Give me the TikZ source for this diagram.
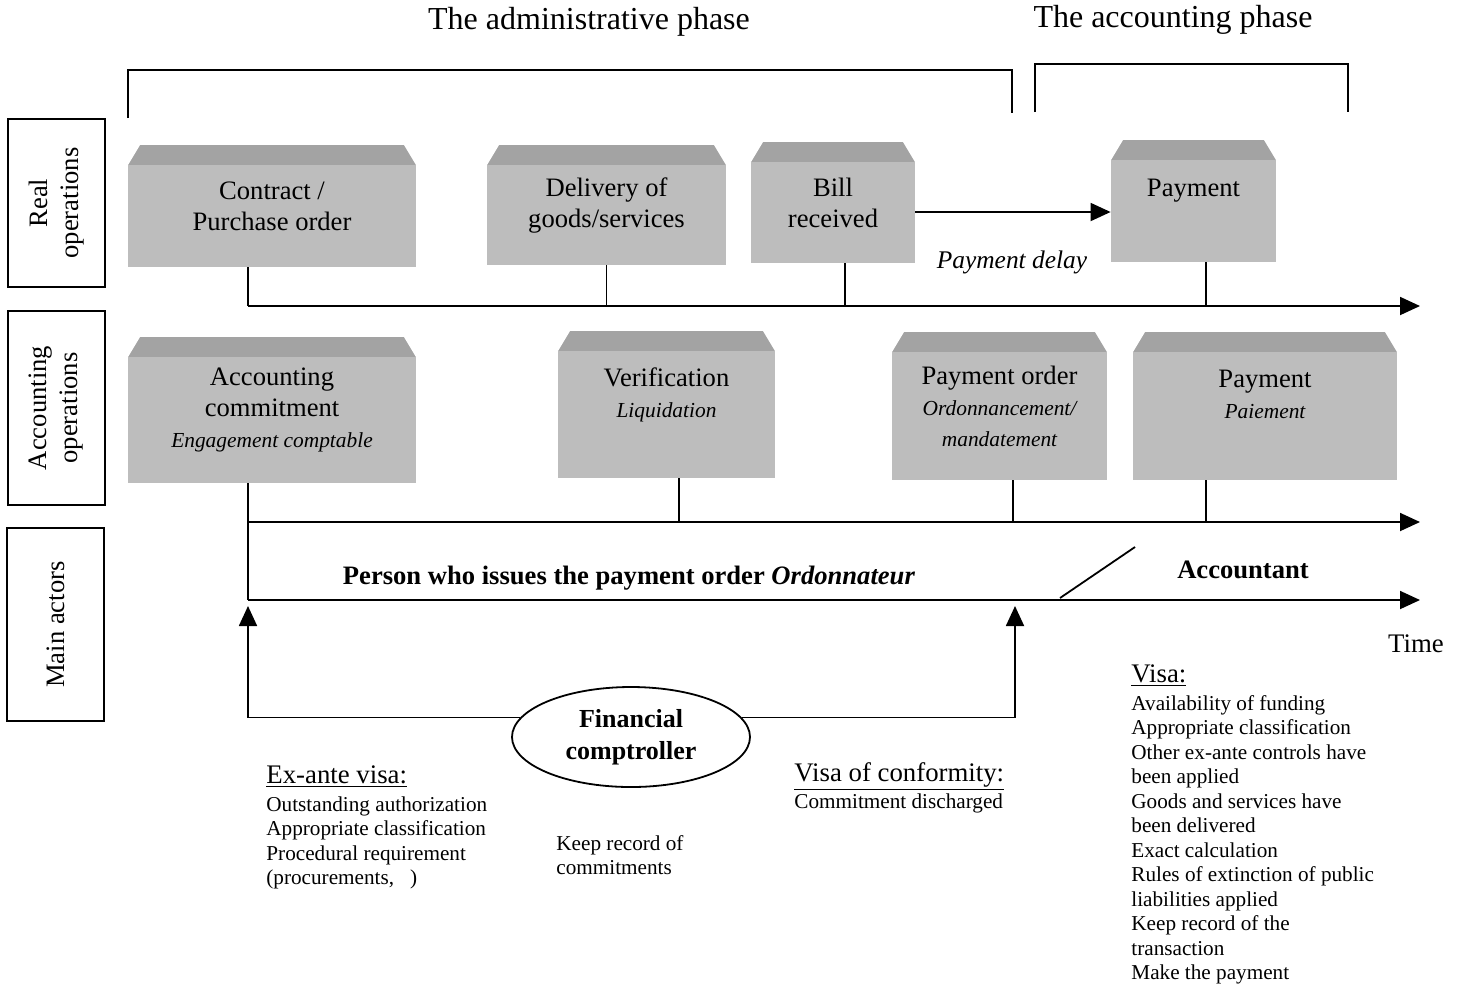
\documentclass[tikz,border=0pt]{standalone}
\usepackage{fontspec}
\setmainfont{Liberation Serif}
\usetikzlibrary{arrows.meta,shapes.geometric}

\newcommand{\boxfont}{\fontsize{13.3}{15.5}\selectfont}
\newcommand{\subfont}{\fontsize{10.7}{13.5}\selectfont\itshape}
\newcommand{\listfont}{\fontsize{10.6}{12.25}\selectfont}
\newcommand{\headfont}{\fontsize{13.4}{15}\selectfont}

\tikzset{
  opbox/.style={fill=black!26, align=center, font=\boxfont, inner sep=2pt,
    path picture={
      \fill[black!36] (path picture bounding box.north west) rectangle ([yshift=-10pt]path picture bounding box.north east);
      \fill[white] (path picture bounding box.north west) -- ++(6pt,0pt) -- ++(-6pt,-10pt) -- cycle;
      \fill[white] (path picture bounding box.north east) -- ++(-6pt,0pt) -- ++(6pt,-10pt) -- cycle;
    }},
  sidebox/.style={draw, line width=0.9pt, rotate=90, minimum height=48.5pt, align=center, font=\boxfont},
  tline/.style={line width=0.9pt, -{Triangle[length=10pt,width=9pt]}},
  tick/.style={line width=0.9pt},
  vislist/.style={anchor=north west, align=left, inner sep=0pt, font=\listfont},
  vishead/.style={anchor=north west, inner sep=0pt, font=\headfont}
}

\begin{document}
\begin{tikzpicture}[x=0.5pt,y=-0.5pt]
    \useasboundingbox (0,0) rectangle (1460,987);

    \node[font=\fontsize{16}{18}\selectfont] (admin) at (589,22) {The administrative phase};
    \node[font=\fontsize{16}{18}\selectfont] (accph) at (1173,20) {The accounting phase};
    \draw[line width=0.7pt] (128,118) |- (1012,70) -- (1012,113);
    \draw[line width=0.7pt] (1035,112) |- (1348,64) -- (1348,112);

    \node[sidebox, minimum width=84pt] (real) at (56.5,203) {Real\\operations};
    \node[sidebox, minimum width=97pt] (acco) at (56.5,408) {Accounting\\operations};
    \node[sidebox, minimum width=96.5pt] (actors) at (55.5,624.5) {Main actors};

    \node[opbox, minimum width=144pt, minimum height=61pt] (contract) at (272,206) {Contract /\\Purchase order};
    \node[opbox, minimum width=119.5pt, minimum height=60pt] (deliv) at (606.5,205) {Delivery of\\goods/services};
    \node[opbox, minimum width=82pt, minimum height=60.5pt] (bill) at (833,202.5) {Bill\\received};
    \node[opbox, minimum width=82.5pt, minimum height=61pt] (pay1) at (1193.5,201) {Payment\\[-2pt]};

    \node[opbox, minimum width=144pt, minimum height=73pt] (commit) at (272,410) {Accounting\\commitment\\{\subfont Engagement comptable}};
    \node[opbox, minimum width=108.5pt, minimum height=73.5pt] (verif) at (666.5,404.5) {Verification\\{\subfont Liquidation}\\[-4pt]};
    \node[opbox, minimum width=107.5pt, minimum height=74pt] (porder) at (999.5,406) {Payment order\\{\subfont Ordonnancement/}\\{\subfont mandatement}};
    \node[opbox, minimum width=132pt, minimum height=74pt] (pay2) at (1265,406) {Payment\\{\subfont Paiement}\\[-4pt]};

    \coordinate (r0) at (248,306);
    \coordinate (r1) at (1420,306);
    \coordinate (a0) at (248,522);
    \coordinate (a1) at (1420,522);
    \coordinate (m0) at (248,600);
    \coordinate (m1) at (1420,600);
    \draw[tline] (r0) -- (r1);
    \draw[tline] (a0) -- (a1);
    \draw[tline] (m0) -- (m1);

    \coordinate (tb) at (845,306);
    \coordinate (tp) at (1206,306);
    \draw[tick] (contract.south -| r0) -- (r0);
    \draw[tick] (deliv.south) -- (deliv.south |- r0);
    \draw[tick] (bill.south -| tb) -- (tb);
    \draw[tick] (pay1.south -| tp) -- (tp);

    \coordinate (tv) at (679,522);
    \coordinate (to) at (1013,522);
    \coordinate (tq) at (1206,522);
    \draw[tick] (commit.south -| m0) -- (m0);
    \draw[tick] (verif.south -| tv) -- (tv);
    \draw[tick] (porder.south -| to) -- (to);
    \draw[tick] (pay2.south -| tq) -- (tq);

    \coordinate (dl) at (1000,212);
    \draw[tline] (bill.east |- dl) -- (pay1.west |- dl);
    \node[font=\fontsize{12.7}{15}\selectfont\itshape] (delay) at (1012,262) {Payment delay};

    \node[font=\fontsize{13.3}{15}\selectfont\bfseries] (ordon) at (629,578) {Person who issues the payment order \textit{Ordonnateur}};
    \node[font=\fontsize{13.3}{15}\selectfont\bfseries] (accnt) at (1243,570) {Accountant};
    \coordinate (s0) at (1060,598);
    \coordinate (s1) at (1135,547);
    \draw[tick] (s0) -- (s1);
    \node[font=\headfont] (time) at (1416,644) {Time};

    \node[draw, line width=0.9pt, ellipse, minimum width=119pt, minimum height=50pt, align=center,
      font=\fontsize{13}{16}\selectfont\bfseries] (fc) at (631,737) {Financial\\comptroller};
    \coordinate (ua) at (248,606);
    \coordinate (ub) at (1015,606);
    \draw[tline] (fc.170) -| (ua);
    \draw[tline] (fc.10) -| (ub);

    \node[vishead] (exante) at (266,765) {\underline{Ex-ante visa:}};
    \node[vislist] (exlist) at (266,796) {Outstanding authorization\\Appropriate classification\\Procedural requirement\\(procurements,\enspace\ )};
    \node[vislist] (keep) at (556,835) {Keep record of\\commitments};
    \node[vishead] (conf) at (794,762) {\underline{Visa of conformity:}};
    \node[vislist] (conflist) at (794,793) {Commitment discharged};
    \node[vishead] (visa) at (1131,664) {\underline{Visa:}};
    \node[vislist] (visalist) at (1131,695) {Availability of funding\\Appropriate classification\\Other ex-ante controls have\\been applied\\Goods and services have\\been delivered\\Exact calculation\\Rules of extinction of public\\liabilities applied\\Keep record of the\\transaction\\Make the payment};
\end{tikzpicture}
\end{document}
